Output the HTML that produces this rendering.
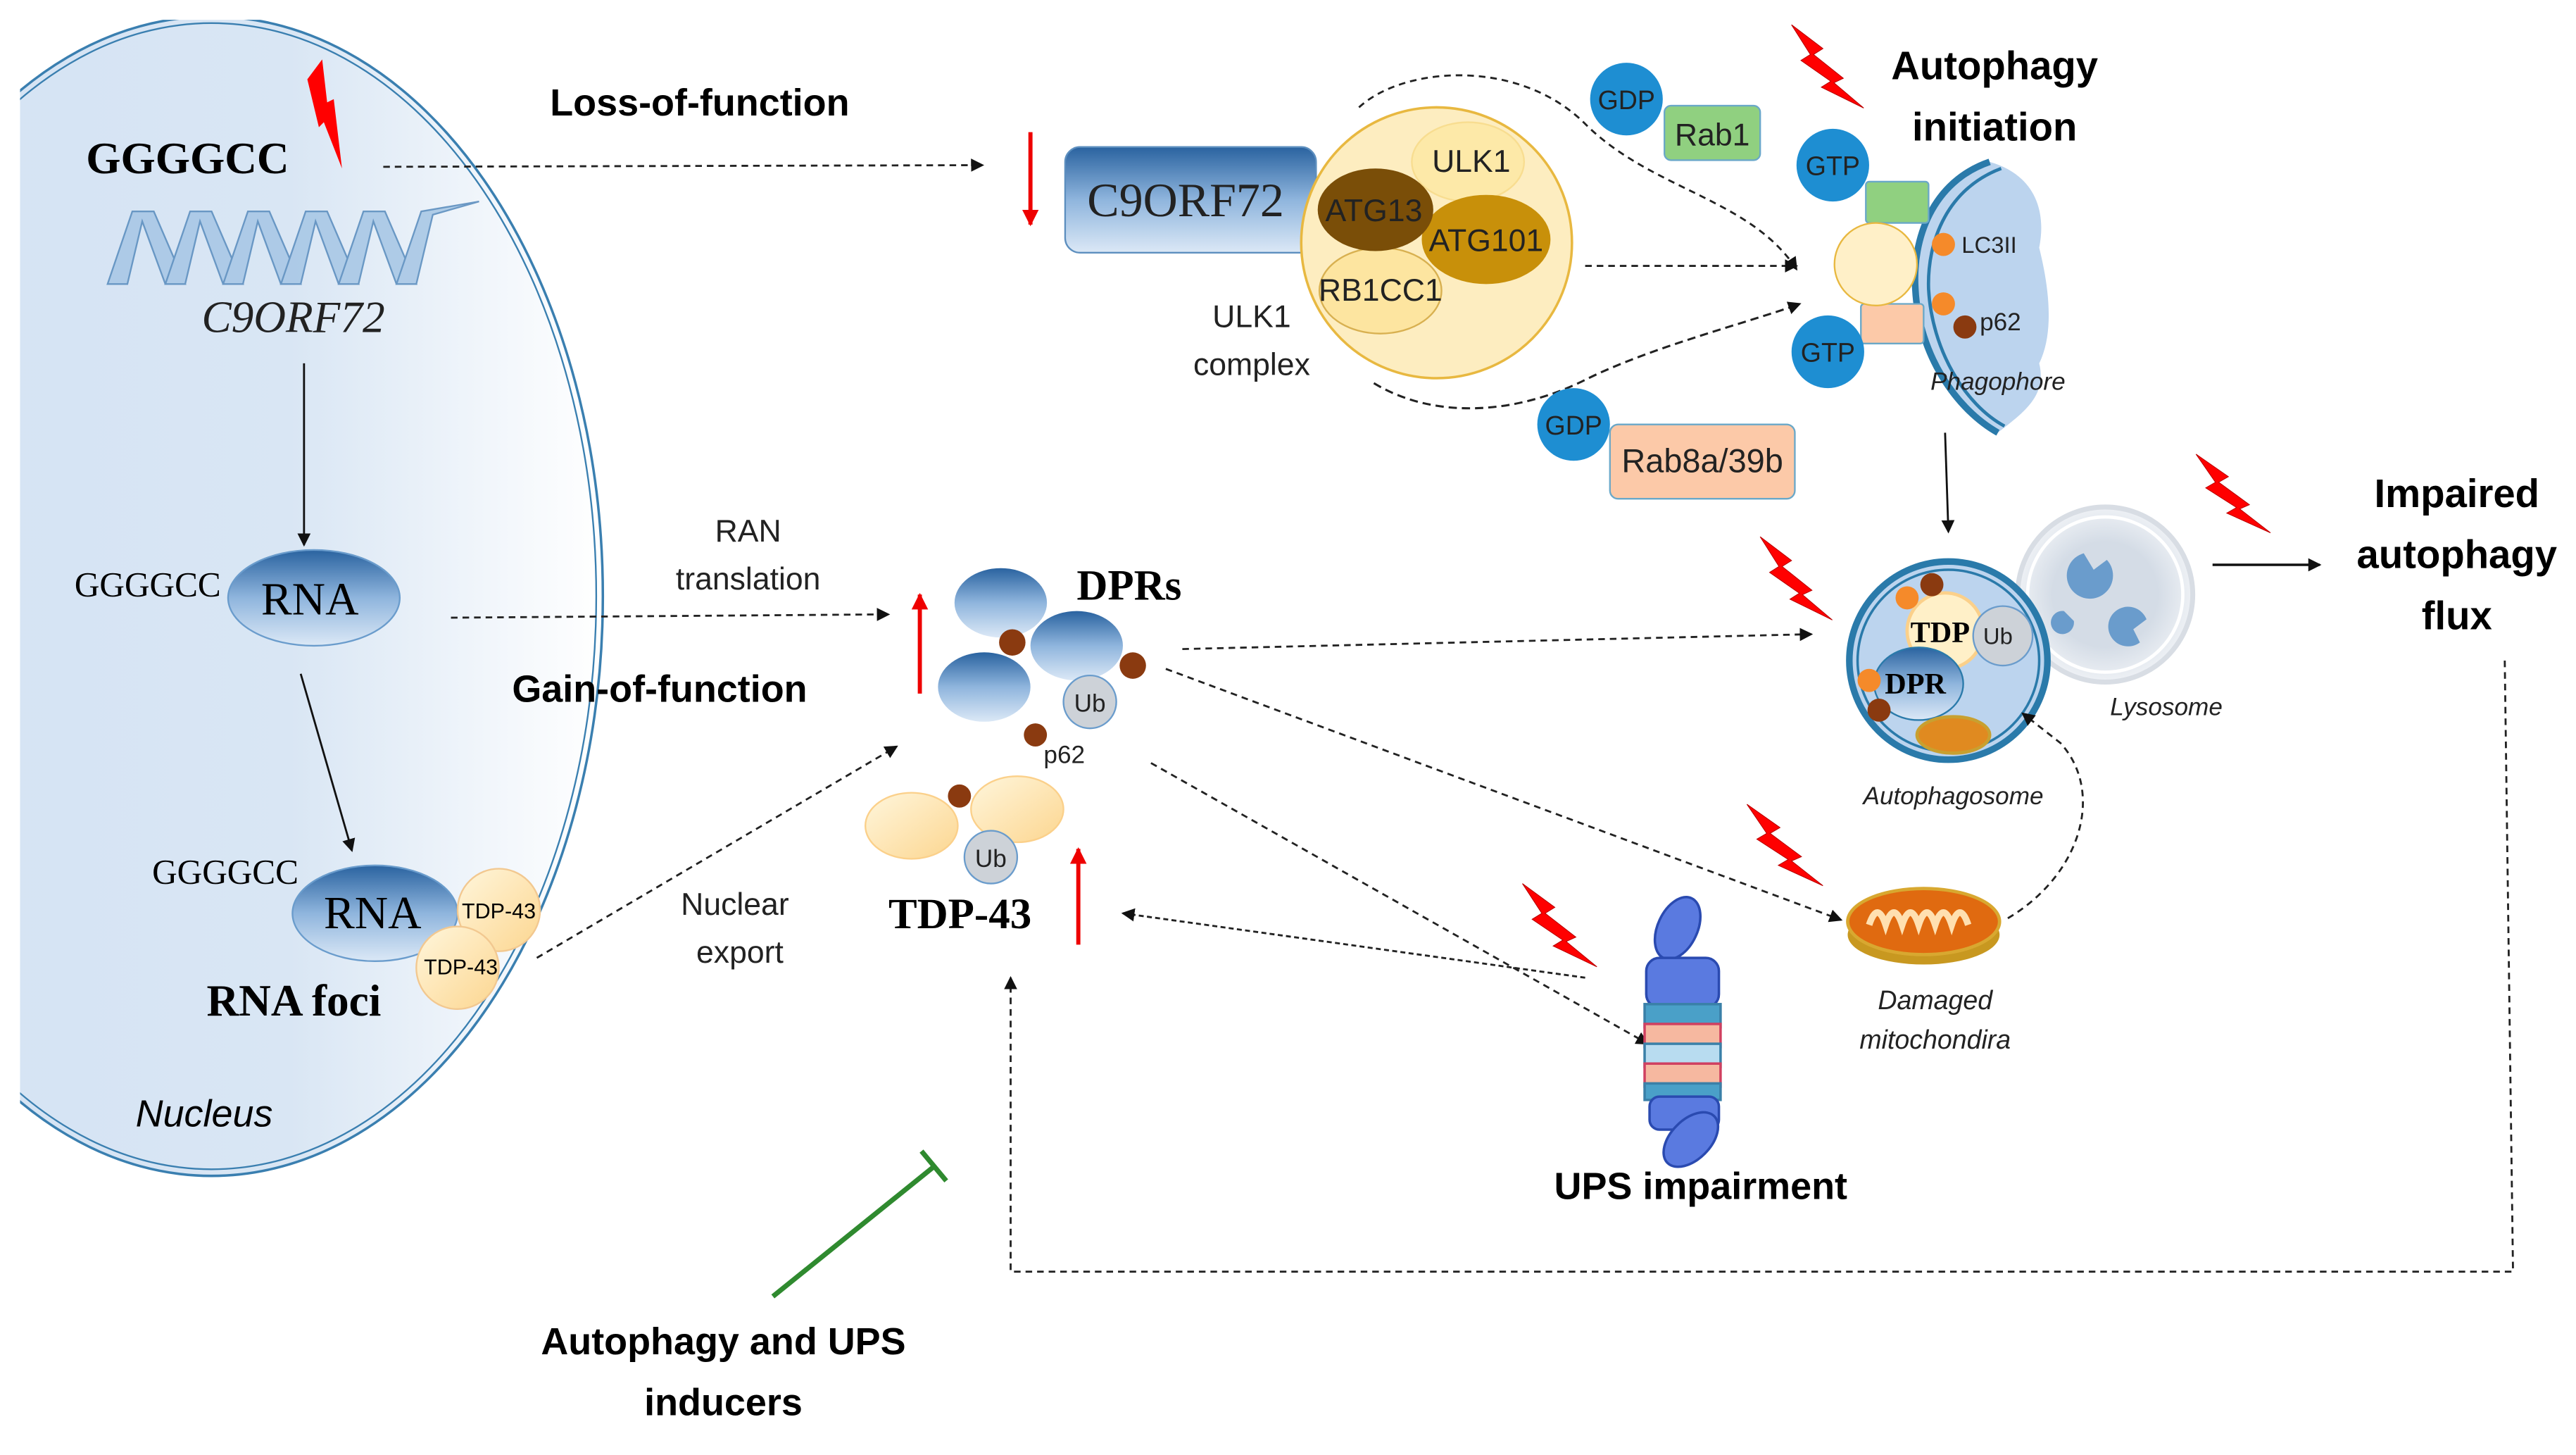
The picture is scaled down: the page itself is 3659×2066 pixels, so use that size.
<!DOCTYPE html>
<html><head><meta charset="utf-8"><style>
html,body{margin:0;padding:0;background:#fff;}
svg{display:block;}
.s{font-family:"Liberation Sans",sans-serif;}
.r{font-family:"Liberation Serif",serif;}
</style></head><body>
<svg width="3659" height="2066" viewBox="0 0 1560 881" xmlns="http://www.w3.org/2000/svg">
<defs>
<linearGradient id="nuc" x1="0" x2="1" y1="0" y2="0">
<stop offset="0" stop-color="#d3e2f3"/><stop offset="0.6" stop-color="#d9e6f4"/><stop offset="1" stop-color="#ffffff"/></linearGradient>
<linearGradient id="blue" x1="0" x2="0" y1="0" y2="1">
<stop offset="0" stop-color="#2a63a0"/><stop offset="0.5" stop-color="#8fb5dd"/><stop offset="1" stop-color="#dbe8f6"/></linearGradient>
<linearGradient id="yel" x1="0" x2="1" y1="0" y2="1">
<stop offset="0" stop-color="#fff6dc"/><stop offset="1" stop-color="#fcd690"/></linearGradient>
<radialGradient id="lys" cx="0.5" cy="0.5" r="0.5"><stop offset="0.6" stop-color="#d4dce6"/><stop offset="1" stop-color="#eef1f5"/></radialGradient>
<marker id="a" markerWidth="8" markerHeight="8" refX="7" refY="4" orient="auto" markerUnits="userSpaceOnUse"><path d="M0,0 L8,4 L0,8 Z" fill="#111"/></marker>
<marker id="ra" markerWidth="10" markerHeight="10" refX="9" refY="5" orient="auto" markerUnits="userSpaceOnUse"><path d="M0,0 L10,5 L0,10 Z" fill="#e00"/></marker>
<clipPath id="cl"><rect x="12" y="12" width="600" height="800"/></clipPath>
<path id="bolt" d="M0,0 L20,16 L14,20 L33,36 L27,39 L46,56 L19,42 L25,38 L6,24 L12,20 Z" fill="#f00" stroke="#b00" stroke-width="0.5"/>
</defs>
<g clip-path="url(#cl)">
<ellipse cx="128" cy="361" rx="237" ry="351" fill="url(#nuc)" stroke="#3a7fb0" stroke-width="1.5"/>
<ellipse cx="128" cy="361" rx="233" ry="347" fill="none" stroke="#3a7fb0" stroke-width="1"/>
</g>
<path d="M186,48 L195,36 L198,62 L202,60 L207,102 L196,74 L193,77 Z" fill="#f00"/>
<text x="52" y="105" class="r" font-size="27" font-weight="bold">GGGGCC</text>
<g fill="#a9c8e6" stroke="#5d8fbf" stroke-width="1" opacity="0.9">
<path d="M65,172 L80,128 L93,128 L112,172 L100,172 L86,134 L77,172 Z"/>
<path d="M100,172 L115,128 L128,128 L147,172 L135,172 L121,134 L112,172 Z"/>
<path d="M135,172 L150,128 L163,128 L182,172 L170,172 L156,134 L147,172 Z"/>
<path d="M170,172 L185,128 L198,128 L217,172 L205,172 L191,134 L182,172 Z"/>
<path d="M205,172 L220,128 L233,128 L252,172 L240,172 L226,134 L217,172 Z"/>
<path d="M240,172 L255,128 L290,122 L262,130 L252,172 Z"/>
</g>
<text x="122" y="201" class="r" font-size="27" font-style="italic" fill="#222">C9ORF72</text>
<line x1="184" y1="220" x2="184" y2="330" stroke="#111" stroke-width="1.2" marker-end="url(#a)"/>
<ellipse cx="190" cy="362" rx="52" ry="29" fill="url(#blue)" stroke="#6a9ccc"/>
<text x="45" y="361" class="r" font-size="21">GGGGCC</text>
<text x="158" y="372" class="r" font-size="28">RNA</text>
<line x1="182" y1="408" x2="213" y2="515" stroke="#111" stroke-width="1.2" marker-end="url(#a)"/>
<text x="92" y="535" class="r" font-size="21">GGGGCC</text>
<ellipse cx="227" cy="553" rx="50" ry="29" fill="url(#blue)" stroke="#6a9ccc"/>
<text x="196" y="562" class="r" font-size="28">RNA</text>
<circle cx="302" cy="551" r="25" fill="url(#yel)" stroke="#f2c890"/>
<circle cx="277" cy="586" r="25" fill="url(#yel)" stroke="#f2c890"/>
<text x="302" y="556" class="s" font-size="13" text-anchor="middle">TDP-43</text>
<text x="279" y="590" class="s" font-size="13" text-anchor="middle">TDP-43</text>
<text x="125" y="615" class="r" font-size="27" font-weight="bold">RNA foci</text>
<text x="82" y="682" class="s" font-size="23" font-style="italic">Nucleus</text>

<text x="333" y="70" class="s" font-size="23" font-weight="bold">Loss-of-function</text>
<line x1="232" y1="101" x2="595" y2="100" stroke="#222" stroke-width="1.2" stroke-dasharray="4,3" marker-end="url(#a)"/>
<line x1="624" y1="80" x2="624" y2="136" stroke="#e00" stroke-width="2.5" marker-end="url(#ra)"/>
<rect x="645" y="89" width="152" height="64" rx="9" fill="url(#blue)" stroke="#5d8fbf"/>
<text x="718" y="131" class="r" font-size="29" text-anchor="middle" fill="#222">C9ORF72</text>
<ellipse cx="870" cy="147" rx="82" ry="82" fill="#fdedc0" stroke="#e8b840" stroke-width="1.5"/>
<ellipse cx="889" cy="98" rx="34" ry="24" fill="#fde9a8" stroke="#f8dd90"/>
<ellipse cx="836" cy="176" rx="37" ry="26" fill="#fde5a0" stroke="#d8b050"/>
<ellipse cx="900" cy="145" rx="39" ry="27" fill="#c8900a"/>
<ellipse cx="833" cy="127" rx="35" ry="25" fill="#7a4e08"/>
<g class="s" font-size="19" text-anchor="middle" fill="#222">
<text x="891" y="104">ULK1</text><text x="832" y="134">ATG13</text><text x="900" y="152">ATG101</text><text x="836" y="182">RB1CC1</text>
<text x="758" y="198">ULK1</text><text x="758" y="227">complex</text></g>
<path d="M823,65 C850,40 920,35 960,75 S1060,120 1088,163" fill="none" stroke="#222" stroke-width="1.2" stroke-dasharray="4,3" marker-end="url(#a)"/>
<line x1="960" y1="161" x2="1088" y2="161" stroke="#222" stroke-width="1.2" stroke-dasharray="4,3" marker-end="url(#a)"/>
<path d="M832,232 C870,255 920,250 960,230 S1060,195 1090,184" fill="none" stroke="#222" stroke-width="1.3" stroke-dasharray="5,3" marker-end="url(#a)"/>
<rect x="1008" y="64" width="58" height="33" rx="4" fill="#90d080" stroke="#6aa8c8"/>
<circle cx="985" cy="60" r="22" fill="#1e8ed2"/>
<text x="985" y="66" class="s" font-size="16" text-anchor="middle" fill="#222">GDP</text>
<text x="1037" y="88" class="s" font-size="19" text-anchor="middle" fill="#222">Rab1</text>
<rect x="975" y="257" width="112" height="45" rx="5" fill="#fcc9a8" stroke="#6aa8c8"/>
<circle cx="953" cy="257" r="22" fill="#1e8ed2"/>
<text x="953" y="263" class="s" font-size="16" text-anchor="middle" fill="#222">GDP</text>
<text x="1031" y="286" class="s" font-size="20" text-anchor="middle" fill="#222">Rab8a/39b</text>
<use href="#bolt" transform="translate(1085,15) scale(0.95,0.9)"/>
<g class="s" font-size="24" font-weight="bold" text-anchor="middle"><text x="1208" y="48">Autophagy</text><text x="1208" y="85">initiation</text></g>
<path d="M1205,98 C1175,110 1160,140 1160,170 C1160,210 1185,250 1210,262 C1225,250 1240,240 1235,220 C1245,200 1240,170 1235,150 C1240,125 1230,105 1205,98 Z" fill="#bcd4ee"/>
<path d="M1205,98 C1170,110 1158,145 1160,175 C1162,215 1185,248 1210,262" fill="none" stroke="#2a7aaa" stroke-width="4"/>
<path d="M1212,102 C1180,114 1167,145 1168,175 C1170,212 1190,245 1214,258" fill="none" stroke="#2a7aaa" stroke-width="2"/>
<rect x="1130" y="110" width="38" height="25" rx="2" fill="#90d080" stroke="#6aa8c8"/>
<rect x="1127" y="184" width="38" height="24" rx="2" fill="#fcc9a8" stroke="#6aa8c8"/>
<circle cx="1136" cy="160" r="25" fill="#fff0c8" stroke="#e8b840"/>
<circle cx="1110" cy="100" r="22" fill="#1e8ed2"/>
<circle cx="1107" cy="213" r="22" fill="#1e8ed2"/>
<text x="1110" y="106" class="s" font-size="16" text-anchor="middle" fill="#222">GTP</text>
<text x="1107" y="219" class="s" font-size="16" text-anchor="middle" fill="#222">GTP</text>
<circle cx="1177" cy="148" r="7" fill="#f58a2a"/><circle cx="1177" cy="184" r="7" fill="#f58a2a"/><circle cx="1190" cy="198" r="7" fill="#8a3a10"/>
<text x="1188" y="153" class="s" font-size="14" fill="#222">LC3II</text>
<text x="1199" y="200" class="s" font-size="15" fill="#222">p62</text>
<text x="1210" y="236" class="s" font-size="15" font-style="italic" text-anchor="middle" fill="#222">Phagophore</text>
<line x1="1178" y1="262" x2="1180" y2="322" stroke="#111" stroke-width="1.2" marker-end="url(#a)"/>
<use href="#bolt" transform="translate(1066,325) scale(0.95,0.9)"/>
<circle cx="1275" cy="360" r="53" fill="url(#lys)" stroke="#d8dde4" stroke-width="3"/>
<circle cx="1275" cy="360" r="47" fill="none" stroke="#fff" stroke-width="2"/>
<path d="M1262,335 a14,14 0 1 0 14,4 l-8,6 Z" fill="#6a9ccc"/>
<path d="M1300,375 a12,12 0 1 0 -4,14 l-4,-8 Z" fill="#6a9ccc"/>
<path d="M1250,370 a7,7 0 1 0 6,6 Z" fill="#6a9ccc"/>
<circle cx="1180" cy="400" r="60" fill="#bcd4ee" stroke="#2a7aaa" stroke-width="4"/>
<circle cx="1180" cy="400" r="55" fill="none" stroke="#2a7aaa" stroke-width="1.5"/>
<circle cx="1178" cy="382" r="23" fill="#fff0c8" stroke="#fbd08a" stroke-width="2"/>
<circle cx="1213" cy="385" r="18" fill="#cdd2d8" stroke="#6a9ccc"/>
<ellipse cx="1162" cy="414" rx="27" ry="22" fill="url(#blue)" stroke="#2a7aaa"/>
<ellipse cx="1183" cy="445" rx="22" ry="11" fill="#e08a20" stroke="#c8a030" stroke-width="2"/>
<circle cx="1155" cy="362" r="7" fill="#f58a2a"/><circle cx="1170" cy="354" r="7" fill="#8a3a10"/>
<circle cx="1132" cy="412" r="7" fill="#f58a2a"/><circle cx="1138" cy="430" r="7" fill="#8a3a10"/>
<text x="1175" y="389" class="r" font-size="18" font-weight="bold" text-anchor="middle">TDP</text>
<text x="1210" y="390" class="s" font-size="14" text-anchor="middle" fill="#222">Ub</text>
<text x="1160" y="420" class="r" font-size="18" font-weight="bold" text-anchor="middle">DPR</text>
<text x="1183" y="487" class="s" font-size="15" font-style="italic" text-anchor="middle" fill="#222">Autophagosome</text>
<text x="1312" y="433" class="s" font-size="15" font-style="italic" text-anchor="middle" fill="#222">Lysosome</text>
<use href="#bolt" transform="translate(1330,275) scale(0.98,0.85)"/>
<line x1="1340" y1="342" x2="1405" y2="342" stroke="#111" stroke-width="1.5" marker-end="url(#a)"/>
<g class="s" font-size="24" font-weight="bold" text-anchor="middle"><text x="1488" y="307">Impaired</text><text x="1488" y="344">autophagy</text><text x="1488" y="381">flux</text></g>
<path d="M1517,400 L1522,770 L612,770 L612,592" fill="none" stroke="#222" stroke-width="1.2" stroke-dasharray="4,3" marker-end="url(#a)"/>
<g class="s" font-size="19" text-anchor="middle" fill="#222"><text x="453" y="328">RAN</text><text x="453" y="357">translation</text>
<text x="445" y="554">Nuclear</text><text x="448" y="583">export</text></g>
<line x1="273" y1="374" x2="538" y2="372" stroke="#222" stroke-width="1.2" stroke-dasharray="4,3" marker-end="url(#a)"/>
<text x="310" y="425" class="s" font-size="23" font-weight="bold">Gain-of-function</text>
<line x1="557" y1="420" x2="557" y2="360" stroke="#e00" stroke-width="2.5" marker-end="url(#ra)"/>
<ellipse cx="606" cy="365" rx="28" ry="21" fill="url(#blue)"/>
<ellipse cx="652" cy="391" rx="28" ry="21" fill="url(#blue)"/>
<ellipse cx="596" cy="416" rx="28" ry="21" fill="url(#blue)"/>
<circle cx="613" cy="389" r="8" fill="#8a3a10"/><circle cx="686" cy="403" r="8" fill="#8a3a10"/><circle cx="627" cy="445" r="7" fill="#8a3a10"/>
<circle cx="660" cy="425" r="16" fill="#cdd2d8" stroke="#6a9ccc"/>
<text x="660" y="431" class="s" font-size="15" text-anchor="middle" fill="#222">Ub</text>
<text x="652" y="363" class="r" font-size="26" font-weight="bold">DPRs</text>
<text x="632" y="462" class="s" font-size="15" fill="#222">p62</text>
<line x1="325" y1="580" x2="543" y2="452" stroke="#222" stroke-width="1.2" stroke-dasharray="4,3" marker-end="url(#a)"/>
<ellipse cx="552" cy="500" rx="28" ry="20" fill="url(#yel)" stroke="#fbd08a"/>
<ellipse cx="616" cy="490" rx="28" ry="20" fill="url(#yel)" stroke="#fbd08a"/>
<circle cx="581" cy="482" r="7" fill="#8a3a10"/>
<circle cx="600" cy="519" r="16" fill="#cdd2d8" stroke="#6a9ccc"/>
<text x="600" y="525" class="s" font-size="15" text-anchor="middle" fill="#222">Ub</text>
<text x="538" y="562" class="r" font-size="26" font-weight="bold">TDP-43</text>
<line x1="653" y1="572" x2="653" y2="514" stroke="#e00" stroke-width="2.5" marker-end="url(#ra)"/>
<line x1="716" y1="393" x2="1097" y2="384" stroke="#222" stroke-width="1.2" stroke-dasharray="4,3" marker-end="url(#a)"/>
<line x1="706" y1="405" x2="1115" y2="557" stroke="#222" stroke-width="1.2" stroke-dasharray="4,3" marker-end="url(#a)"/>
<line x1="697" y1="462" x2="998" y2="632" stroke="#222" stroke-width="1.2" stroke-dasharray="4,3" marker-end="url(#a)"/>
<line x1="960" y1="592" x2="680" y2="553" stroke="#222" stroke-width="1.2" stroke-dasharray="3,2" marker-end="url(#a)"/>
<path d="M1216,556 C1260,530 1275,480 1248,450 L1225,432" fill="none" stroke="#222" stroke-width="1.2" stroke-dasharray="4,3" marker-end="url(#a)"/>
<use href="#bolt" transform="translate(1058,487) scale(1,0.88)"/>
<ellipse cx="1165" cy="566" rx="46" ry="18" fill="#c89820"/>
<ellipse cx="1165" cy="558" rx="46" ry="20" fill="#e06a10" stroke="#d8a830" stroke-width="2"/>
<path d="M1132,560 q5,-15 10,0 q5,-15 10,0 q5,-15 10,0 q5,-15 10,0 q5,-15 10,0 q5,-15 10,0" fill="none" stroke="#ffe0b0" stroke-width="4"/>
<g class="s" font-size="16" font-style="italic" text-anchor="middle" fill="#222"><text x="1172" y="611">Damaged</text><text x="1172" y="635">mitochondira</text></g>
<use href="#bolt" transform="translate(922,535) scale(0.98,0.9)"/>
<g stroke="#2a4ab0" stroke-width="1.5">
<ellipse cx="1016" cy="562" rx="12" ry="20" transform="rotate(25 1016 562)" fill="#5a7ae0"/>
<rect x="997" y="580" width="44" height="30" rx="8" fill="#5a7ae0"/>
<rect x="996" y="608" width="46" height="14" fill="#4aa0c8" stroke="#3a80a8"/>
<rect x="996" y="620" width="46" height="14" fill="#f6b8a0" stroke="#d04060"/>
<rect x="996" y="632" width="46" height="14" fill="#b8dcf0" stroke="#3a80a8"/>
<rect x="996" y="644" width="46" height="14" fill="#f6b8a0" stroke="#d04060"/>
<rect x="996" y="656" width="46" height="10" fill="#4aa0c8" stroke="#3a80a8"/>
<rect x="999" y="664" width="42" height="20" rx="6" fill="#5a7ae0"/>
<ellipse cx="1024" cy="690" rx="12" ry="20" transform="rotate(45 1024 690)" fill="#5a7ae0"/>
</g>
<text x="1030" y="726" class="s" font-size="23" font-weight="bold" text-anchor="middle">UPS impairment</text>
<line x1="468" y1="785" x2="566" y2="706" stroke="#2f8a2f" stroke-width="3"/>
<line x1="558" y1="697" x2="573" y2="715" stroke="#2f8a2f" stroke-width="3"/>
<g class="s" font-size="23" font-weight="bold" text-anchor="middle"><text x="438" y="820">Autophagy and UPS</text><text x="438" y="857">inducers</text></g>
</svg>
</body></html>
